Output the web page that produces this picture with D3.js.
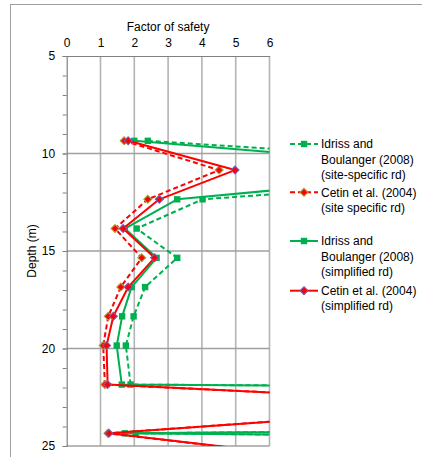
<!DOCTYPE html>
<html>
<head>
<meta charset="utf-8">
<script src="https://cdn.jsdelivr.net/npm/d3@7"></script>
<style>
  html, body { margin: 0; padding: 0; background: #fff; }
  svg { display: block; }
  text { font-family: "Liberation Sans", Arial, sans-serif; fill: #000; }
</style>
</head>
<body>
<svg id="chart" width="422" height="457"></svg>
<script>
// ---- data ----
const depths = [9.35, 10.85, 12.35, 13.85, 15.35, 16.85, 18.35, 19.85, 21.85, 22.85, 24.35, 25.85];
const idrissSite = [2.40, 16.0, 4.02, 2.07, 3.27, 2.32, 1.98, 1.75, 1.89, 100, 2.04, 100];
const cetinSite  = [1.70, 4.51, 2.40, 1.43, 2.22, 1.60, 1.23, 1.08, 1.13, 13.2, 1.22, 8.6];
const idrissSimp = [2.00, 12.5, 3.27, 1.72, 2.66, 1.92, 1.64, 1.48, 1.63, 100, 1.72, 100];
const cetinSimp  = [1.82, 4.98, 2.74, 1.67, 2.60, 1.82, 1.38, 1.18, 1.21, 13.2, 1.25, 8.7];
const xTicks = [0, 1, 2, 3, 4, 5, 6];
const yMajor = [5, 10, 15, 20, 25];
const yMinor = d3.range(5, 26, 1);

const series = [
  { name: ["Idriss and", "Boulanger (2008)", "(site-specific rd)"], values: idrissSite, color: "#00B050", dash: "5,3", marker: "square" },
  { name: ["Cetin et al. (2004)", "(site specific rd)"], values: cetinSite, color: "#FF0000", dash: "5,3", marker: "diamond", mstroke: "#a8a040" },
  { name: ["Idriss and", "Boulanger (2008)", "(simplified rd)"], values: idrissSimp, color: "#00B050", dash: null, marker: "square" },
  { name: ["Cetin et al. (2004)", "(simplified rd)"], values: cetinSimp, color: "#FF0000", dash: null, marker: "diamond", mstroke: "#7060c0" }
];

// ---- layout ----
const svg = d3.select("#chart");
const x = d3.scaleLinear().domain([0, 6]).range([66.7, 269.5]);
const y = d3.scaleLinear().domain([5, 25]).range([56, 446]);

// outer chart border
svg.append("rect").attr("x", 10.5).attr("y", 4.5).attr("width", 440).attr("height", 470)
  .attr("fill", "none").attr("stroke", "#a0a0a0").attr("stroke-width", 1);

// gridlines
const grid = svg.append("g");
grid.selectAll("line.v").data(xTicks.slice(1)).join("line")
  .attr("x1", d => x(d)).attr("x2", d => x(d)).attr("y1", y(5)).attr("y2", y(25))
  .attr("stroke", "#b4b4b4").attr("stroke-width", 1.6);
grid.selectAll("line.h").data(yMajor.slice(1)).join("line")
  .attr("x1", x(0)).attr("x2", x(6)).attr("y1", d => y(d)).attr("y2", d => y(d))
  .attr("stroke", "#a0a0a0").attr("stroke-width", 1.3);

// top axis
const xAxis = d3.axisTop(x).tickValues(xTicks).tickSize(0).tickPadding(9).tickFormat(d3.format("d"));
const gx = svg.append("g").attr("transform", `translate(0,${y(5)})`).call(xAxis);
gx.select(".domain").attr("stroke", "#808080").attr("stroke-width", 1.2);
gx.selectAll("text").attr("font-size", 12).attr("font-family", "Liberation Sans, Arial, sans-serif");

// left axis: minor ticks
const yAxisMinor = d3.axisLeft(y).tickValues(yMinor).tickSize(4).tickFormat("");
const gyMinor = svg.append("g").attr("transform", `translate(${x(0)},0)`).call(yAxisMinor);
gyMinor.select(".domain").remove();
gyMinor.selectAll("line").attr("stroke", "#808080");

const yAxis = d3.axisLeft(y).tickValues(yMajor).tickSize(4).tickPadding(7.5).tickFormat(d3.format("d"));
const gy = svg.append("g").attr("transform", `translate(${x(0)},0)`).call(yAxis);
gy.select(".domain").attr("stroke", "#808080").attr("stroke-width", 1.2);
gy.selectAll("line").attr("stroke", "#808080");
gy.selectAll("text").attr("font-size", 12).attr("font-family", "Liberation Sans, Arial, sans-serif");

// axis titles
svg.append("text").attr("x", (x(0) + x(6)) / 2).attr("y", 31).attr("text-anchor", "middle")
  .attr("font-size", 12).text("Factor of safety");
svg.append("text").attr("transform", `translate(36,${(y(5) + y(25)) / 2}) rotate(-90)`)
  .attr("text-anchor", "middle").attr("font-size", 12).text("Depth (m)");

// clip
svg.append("clipPath").attr("id", "plotclip").append("rect")
  .attr("x", x(0)).attr("y", y(5)).attr("width", x(6) - x(0)).attr("height", y(25) - y(5));

const plot = svg.append("g").attr("clip-path", "url(#plotclip)");
const line = d3.line().x(d => x(d[1])).y(d => y(d[0]));

function drawMarker(g, s, cx, cy) {
  if (s.marker === "square") {
    g.append("rect").attr("x", cx - 3.2).attr("y", cy - 3.2).attr("width", 6.4).attr("height", 6.4)
      .attr("fill", s.color);
  } else {
    const r = 4;
    g.append("path").attr("d", `M${cx},${cy - r}L${cx + r},${cy}L${cx},${cy + r}L${cx - r},${cy}Z`)
      .attr("fill", s.color).attr("stroke", s.mstroke).attr("stroke-width", 1.1);
  }
}

series.forEach(s => {
  const pts = depths.map((d, i) => [d, s.values[i]]);
  plot.append("path").datum(pts).attr("d", line).attr("fill", "none")
    .attr("stroke", s.color).attr("stroke-width", 2)
    .attr("stroke-dasharray", s.dash).attr("stroke-linejoin", "round");
  const mg = plot.append("g");
  pts.forEach(p => drawMarker(mg, s, x(p[1]), y(p[0])));
});

// legend
const legendTop = [144, 192.3, 241, 290.7];
const lg = svg.append("g");
series.forEach((s, i) => {
  const cy = legendTop[i];
  lg.append("line").attr("x1", 290).attr("x2", 318).attr("y1", cy).attr("y2", cy)
    .attr("stroke", s.color).attr("stroke-width", 2).attr("stroke-dasharray", s.dash);
  drawMarker(lg, s, 304, cy);
  s.name.forEach((t, j) => {
    lg.append("text").attr("x", 321).attr("y", cy + 4.3 + j * 15.2).attr("font-size", 12).text(t);
  });
});
</script>
</body>
</html>
